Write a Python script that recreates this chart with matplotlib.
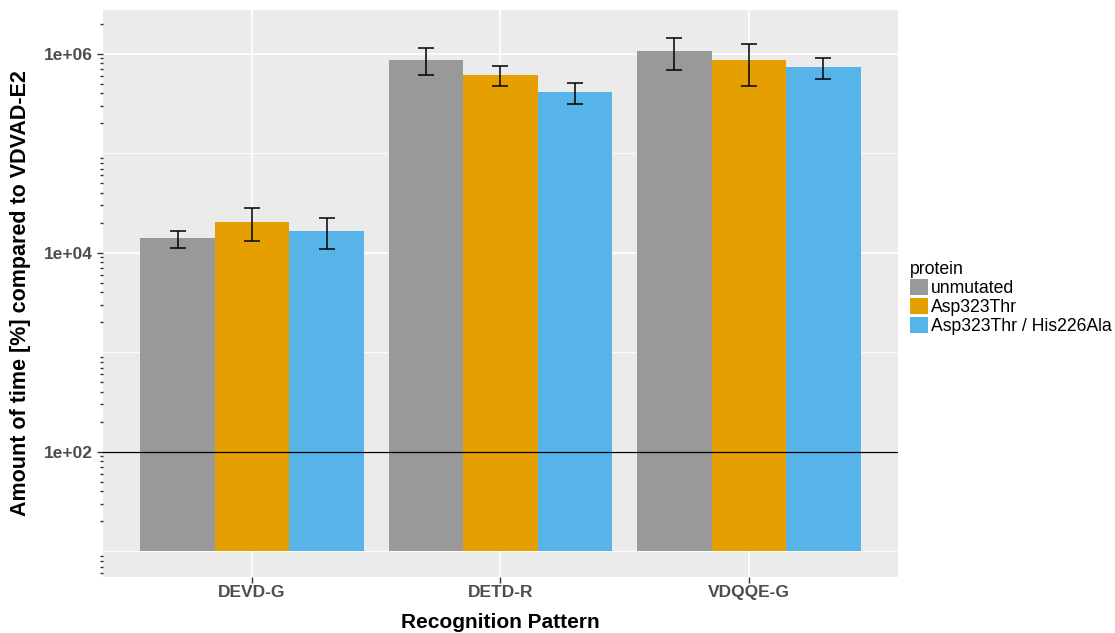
import numpy as np
import matplotlib
matplotlib.use("Agg")
import matplotlib.pyplot as plt
from matplotlib.patches import Patch
from matplotlib.ticker import FixedLocator, LogLocator, NullFormatter

plt.rcParams['font.family'] = ['Liberation Sans', 'DejaVu Sans']

# data
patterns = ["DEVD-G", "DETD-R", "VDQQE-G"]
proteins = ["unmutated", "Asp323Thr", "Asp323Thr / His226Ala"]
colors = ["#999999", "#E69F00", "#56B4E9"]

means = {
    "unmutated":             [13900, 870000, 1064000],
    "Asp323Thr":             [20500, 605000, 857000],
    "Asp323Thr / His226Ala": [16500, 408000, 729000],
}
err_low = {
    "unmutated":             [11200, 611000, 690000],
    "Asp323Thr":             [13100, 473000, 473000],
    "Asp323Thr / His226Ala": [10800, 314000, 556000],
}
err_high = {
    "unmutated":             [16700, 1130000, 1449000],
    "Asp323Thr":             [27900, 746000, 1260000],
    "Asp323Thr / His226Ala": [22100, 507000, 912000],
}
baseline = 10      # bars start here on the log axis
reference = 100    # horizontal reference line

fig = plt.figure(figsize=(11.15, 6.33), dpi=100)
ax = fig.add_axes([103/1115, 1-577/633, (898-103)/1115, (577-10)/633])
ax.set_facecolor("#EBEBEB")
ax.set_yscale("log")

x = np.arange(len(patterns))
w = 0.3
for j, p in enumerate(proteins):
    pos = x + (j - 1) * w
    m = np.array(means[p])
    ax.bar(pos, m - baseline, bottom=baseline, width=w, color=colors[j],
           zorder=2, linewidth=0)
    lo = m - np.array(err_low[p])
    hi = np.array(err_high[p]) - m
    ax.errorbar(pos, m, yerr=[lo, hi], fmt="none", ecolor="black",
                elinewidth=1.1, capsize=5.8, capthick=1.1, zorder=4)

ax.axhline(reference, color="black", linewidth=0.9, zorder=3)

ax.set_xlim(-0.6, 2.6)
ax.set_ylim(10**0.74, 10**6.44)

# grid in ggplot style
ax.yaxis.set_major_locator(FixedLocator([1e2, 1e4, 1e6]))
ax.yaxis.set_minor_locator(LogLocator(base=10, subs=np.arange(2, 10), numticks=20))
ax.yaxis.set_minor_formatter(NullFormatter())
ax.set_yticklabels(["1e+02", "1e+04", "1e+06"])
ax.grid(True, which="major", color="white", linewidth=1.2, zorder=0)
for v in [1e1, 1e3, 1e5]:
    ax.axhline(v, color="white", linewidth=0.6, zorder=0.5)
ax.set_axisbelow(True)

ax.set_xticks(x)
ax.set_xticklabels(patterns)
for s in ax.spines.values():
    s.set_visible(False)
ax.tick_params(axis="both", which="major", length=4, width=1, color="#333333",
               labelcolor="#4D4D4D", labelsize=12.5)
ax.tick_params(axis="x", which="major", pad=2)
ax.tick_params(axis="y", which="minor", length=2.5, width=1, color="#333333")
for lab in ax.get_xticklabels() + ax.get_yticklabels():
    lab.set_fontweight("bold")

ax.set_xlabel("Recognition Pattern", fontsize=15, fontweight="bold", labelpad=9)
ax.set_ylabel("Amount of time [%] compared to VDVAD-E2", fontsize=15.5,
              fontweight="bold", labelpad=9)

handles = [Patch(facecolor=c, edgecolor="none") for c in colors]
leg = fig.legend(handles, proteins, title="protein", loc="upper left",
                 bbox_to_anchor=(910/1115, 1-261/633), frameon=False,
                 fontsize=12.7, title_fontsize=12.7, handlelength=1.0,
                 handleheight=1.0, handletextpad=0.2, labelspacing=0.06,
                 borderpad=0, borderaxespad=0, alignment="left")

fig.savefig("out.png", dpi=100)
